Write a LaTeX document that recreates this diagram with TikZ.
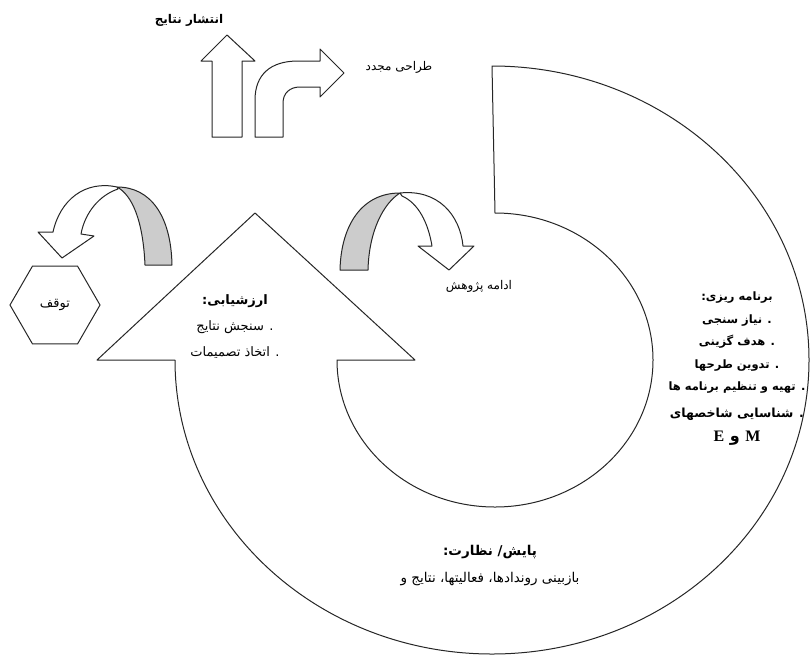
\documentclass[tikz,border=0pt]{standalone}
\usepackage{fontspec}
\usetikzlibrary{shapes.geometric}
\newfontfamily\farsi[Script=Arabic]{DejaVu Sans}
\newfontfamily\latinserif{Liberation Serif}
\TeXXeTstate=1
\newcommand{\fatxt}[1]{{\farsi\beginR #1\endR}}

\begin{document}
\begin{tikzpicture}[x=1pt,y=-1pt,
	shapeline/.style={draw=black!85, line width=1pt, line join=round, fill=white},
	backface/.style={draw=black!85, line width=1pt, line join=round, fill=black!20},
	txt/.style={inner sep=1pt, align=center, font=\fontsize{12}{14}\selectfont}]
	\useasboundingbox (0,0) rectangle (810,654);

	%cycle ring with arrow head
	\draw[shapeline] (492,66) arc[start angle=-90, end angle=180, x radius=317, y radius=294]
		-- (97,360) -- (255,213) -- (415,360) -- (337,360)
		arc[start angle=180, end angle=-90, x radius=158, y radius=147] -- cycle;

	%top arrows
	\draw[shapeline] (212,137) -- (212,61) -- (201,61) -- (227,35) -- (255,61) -- (242,61) -- (242,137) -- cycle;
	\draw[shapeline] (255,137) -- (255,100) .. controls (255,75) and (270,61) .. (298,61) -- (320,61) -- (320,49)
		-- (344,73) -- (320,97) -- (320,87) -- (300,87) .. controls (290,87) and (283,93) .. (283,103) -- (283,137) -- cycle;

	%curved arrow to stop
	\draw[backface] (145,265) .. controls (143,220) and (132,195) .. (117,187) .. controls (150,187) and (171,215) .. (172,265) -- cycle;
	\draw[shapeline] (117,187) .. controls (85,180) and (60,200) .. (53,232) -- (38,232) -- (62,258) -- (94,236) -- (81,234)
		.. controls (85,212) and (100,195) .. (118,189) -- cycle;

	%curved arrow to continue
	\draw[backface] (340,270) .. controls (341,225) and (362,193) .. (400,193) .. controls (384,203) and (369,230) .. (368,270) -- cycle;
	\draw[shapeline] (400,193) .. controls (438,189) and (460,215) .. (463,246) -- (474,246) -- (449,270) -- (418,246) -- (432,246)
		.. controls (428,222) and (418,203) .. (402,196) -- cycle;

	%stop
	\node[draw=black!85, line width=1pt, regular polygon, regular polygon sides=6, minimum size=90pt, txt,
		font=\fontsize{13}{15}\selectfont] (stop) at (55,305) {\fatxt{توقف}};

	%labels
	\node[txt] (publish) at (189,20) {\fatxt{\bfseries انتشار نتایج}};
	\node[txt] (redesign) at (399,67) {\fatxt{طراحی مجدد}};
	\node[txt] (goon) at (479,286) {\fatxt{ادامه پژوهش}};

	\node[txt, font=\fontsize{13}{26}\selectfont] (evaluate) at (235,327)
		{\fatxt{\bfseries ارزشیابی:}\\ \fatxt{. سنجش نتایج}\\ \fatxt{. اتخاذ تصمیمات}};

	\node[txt, font=\fontsize{11.5}{22.5}\selectfont\bfseries] (plan) at (737,369)
		{\fatxt{برنامه ریزی:}\\ \fatxt{. نیاز سنجی}\\ \fatxt{. هدف گزینی}\\ \fatxt{. تدوین طرحها}\\
		\fatxt{. تهیه و تنظیم برنامه ها}\\[4pt] \fatxt{\fontsize{12.5}{16}\selectfont . شناسایی شاخصهای}\\[2pt]
		\fatxt{\fontsize{16}{18}\selectfont {\latinserif M} و {\latinserif E}}};

	\node[txt, font=\fontsize{13.5}{27}\selectfont] (monitor) at (490,566)
		{\fatxt{\bfseries پایش/ نظارت:}\\ \fatxt{بازبینی روندادها، فعالیتها، نتایج و}};
\end{tikzpicture}
\end{document}
